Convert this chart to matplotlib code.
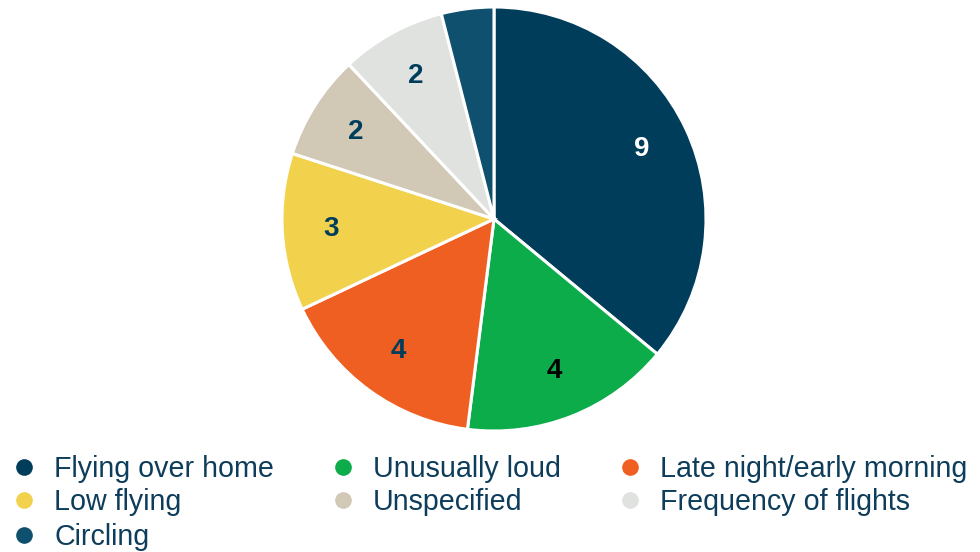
import matplotlib
matplotlib.use("Agg")
import matplotlib.pyplot as plt
from matplotlib.lines import Line2D

categories = ["Flying over home", "Unusually loud", "Late night/early morning",
              "Low flying", "Unspecified", "Frequency of flights", "Circling"]
values = [9, 4, 4, 3, 2, 2, 1]
colors = ["#003d5b", "#0cac4a", "#f05f22", "#f2d24c", "#d1c8b5", "#e0e2df", "#10506f"]
label_colors = ["white", "black", "#003d5b", "#003d5b", "#003d5b", "#003d5b", "#003d5b"]
show_label = [True, True, True, True, True, True, False]

W, H = 980, 552
fig = plt.figure(figsize=(W / 100, H / 100), dpi=100)
plt.rcParams['font.family'] = ['Liberation Sans', 'DejaVu Sans']

cx, cy, r = 494, 219, 212
ax = fig.add_axes([(cx - r) / W, (H - cy - r) / H, 2 * r / W, 2 * r / H])
wedges, texts = ax.pie(values, colors=colors, startangle=90, counterclock=False,
                       radius=1.0,
                       wedgeprops=dict(edgecolor="white", linewidth=2.2),
                       labels=[str(v) if s else "" for v, s in zip(values, show_label)],
                       labeldistance=0.77)
for w in wedges:
    w.set_clip_on(False)
for t, c in zip(texts, label_colors):
    t.set_color(c)
    t.set_fontsize(20)
    t.set_fontweight("bold")
    t.set_ha("center")
    t.set_va("center")
ax.set_xlim(-1.0, 1.0)
ax.set_ylim(-1.0, 1.0)
ax.set_aspect("equal")
ax.axis("off")

# legend, row-major, 3 columns
col_x = [24, 343, 630]
row_y = [467, 500, 535]
for i, (cat, col) in enumerate(zip(categories, colors)):
    rr, cc = divmod(i, 3)
    mx = col_x[cc] / W
    my = 1 - row_y[rr] / H
    fig.add_artist(Line2D([mx], [my], marker="o", markersize=13, color=col,
                          markeredgecolor="white", markeredgewidth=1,
                          transform=fig.transFigure, linestyle="none"))
    fig.text((col_x[cc] + 30) / W, my - 2 / H, cat, fontsize=20.6, color="#0d3d5a",
             ha="left", va="center")

fig.savefig("out.png", dpi=100)
